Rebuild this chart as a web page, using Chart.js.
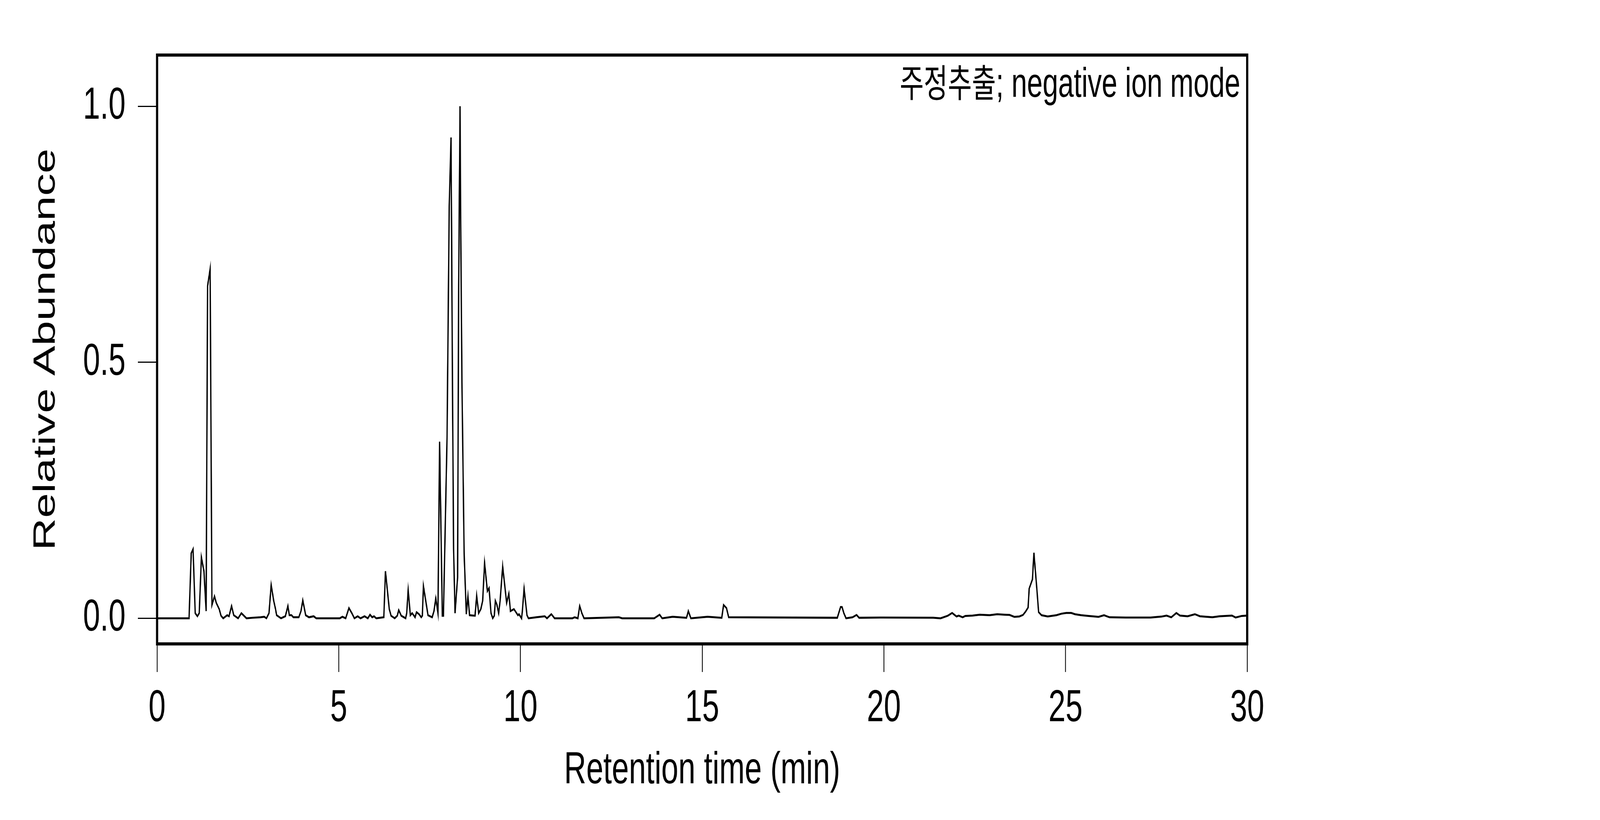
<!DOCTYPE html>
<html>
<head>
<meta charset="utf-8">
<script src="https://cdn.jsdelivr.net/npm/chart.js@4.4.1/dist/chart.umd.min.js"></script>
<style>
  html, body { margin: 0; padding: 0; background: #fff; overflow: hidden; }
  /* canvas is drawn at 6000x2100 and shown at whatever the window is */
  #tic { display: block; width: 100vw !important; height: 100vh !important; }
</style>
</head>
<body>
<canvas id="tic" width="6000" height="2100"></canvas>
<script>
// retention time (min) and relative abundance
var retentionTime = [
  0, 0.5, 0.88, 0.94, 0.99, 1.05, 1.11, 1.16, 1.22, 1.29, 1.35, 1.39, 1.46, 1.51, 1.58, 1.63, 1.71, 1.76, 1.82,
  1.93, 1.98, 2.05, 2.11, 2.23, 2.32, 2.46, 2.62, 2.85, 2.95, 3.01, 3.08, 3.14, 3.21, 3.26, 3.29, 3.41, 3.53,
  3.60, 3.64, 3.70, 3.75, 3.90, 3.96, 4.01, 4.09, 4.18, 4.31, 4.38, 5.03, 5.10, 5.19, 5.28, 5.36, 5.43, 5.52,
  5.60, 5.71, 5.80, 5.86, 5.92, 5.97, 6.03, 6.24, 6.285, 6.39, 6.44, 6.54, 6.61, 6.65, 6.72, 6.84, 6.87, 6.91,
  6.97, 7.02, 7.10, 7.14, 7.21, 7.27, 7.30, 7.33, 7.456, 7.57, 7.62, 7.67, 7.73, 7.775, 7.85, 7.88, 7.98, 8.04,
  8.09, 8.13, 8.16, 8.20, 8.27, 8.30, 8.337, 8.356, 8.39, 8.45, 8.51, 8.555, 8.60, 8.75, 8.795, 8.85, 8.91, 8.96,
  9.013, 9.09, 9.136, 9.19, 9.237, 9.28, 9.31, 9.35, 9.40, 9.44, 9.511, 9.62, 9.68, 9.725, 9.82, 9.93, 9.96,
  10.03, 10.05, 10.10, 10.18, 10.22, 10.44, 10.67, 10.73, 10.85, 10.94, 11.43, 11.49, 11.58, 11.63, 11.69, 11.75,
  12.71, 12.80, 13.68, 13.83, 13.90, 14.19, 14.57, 14.62, 14.69, 15.15, 15.54, 15.59, 15.67, 15.73, 18.72, 18.81,
  18.85, 18.90, 18.96, 19.14, 19.25, 19.32, 19.92, 21.36, 21.56, 21.76, 21.88, 22.00, 22.06, 22.17, 22.24, 22.44,
  22.64, 22.91, 23.12, 23.32, 23.46, 23.59, 23.73, 23.83, 23.90, 23.97, 24.00, 24.07, 24.09, 24.13, 24.21, 24.26,
  24.34, 24.51, 24.75, 24.89, 25.02, 25.16, 25.26, 25.43, 25.64, 25.91, 26.06, 26.21, 26.66, 27.34, 27.64, 27.78,
  27.91, 28.05, 28.15, 28.36, 28.56, 28.70, 29.04, 29.24, 29.58, 29.68, 29.85, 30.0
];
var relAbundance = [
  0, 0, 0, 0.127, 0.135, 0.01, 0.004, 0.01, 0.119, 0.092, 0.014, 0.649, 0.682, 0.026, 0.043, 0.03, 0.018, 0.005, 0,
  0.006, 0.004, 0.024, 0.006, 0, 0.01, 0, 0.001, 0.002, 0.003, 0, 0.01, 0.065, 0.034, 0.018, 0.006, 0, 0.004,
  0.024, 0.006, 0.006, 0.002, 0.002, 0.014, 0.035, 0.006, 0.002, 0.004, 0, 0, 0.003, 0, 0.02, 0.01, 0, 0.004,
  0, 0.004, 0, 0.007, 0.002, 0.004, 0, 0.002, 0.092, 0.018, 0.005, 0, 0.005, 0.016, 0.005, 0, 0.01, 0.055,
  0.006, 0.01, 0.002, 0.012, 0.008, 0.002, 0.005, 0.063, 0.006, 0.002, 0.014, 0.039, 0.01, 0.345, 0.005, 0.005, 0.353, 0.805,
  0.939, 0.447, 0.135, 0.01, 0.08, 0.65, 1.0, 0.77, 0.46, 0.127, 0.008, 0.043, 0.006, 0.005, 0.044, 0.01, 0.018, 0.034,
  0.108, 0.053, 0.059, 0.01, 0, 0.005, 0.034, 0.027, 0.01, 0.034, 0.101, 0.03, 0.048, 0.014, 0.018, 0.006, 0.008,
  0, 0.012, 0.058, 0.006, 0, 0.002, 0.004, 0, 0.008, 0, 0, 0.002, 0, 0.024, 0.01, 0,
  0.002, 0, 0, 0.007, 0, 0.003, 0.001, 0.014, 0, 0.003, 0.001, 0.026, 0.02, 0.002, 0.001, 0.022,
  0.022, 0.01, 0, 0.002, 0.0066, 0.001, 0.0015, 0.001, 0, 0.005, 0.0104, 0.0036, 0.0053, 0.002, 0.0046, 0.0053,
  0.007, 0.006, 0.008, 0.007, 0.0066, 0.0028, 0.0036, 0.0066, 0.013, 0.021, 0.058, 0.072, 0.076, 0.128, 0.058, 0.012,
  0.006, 0.0036, 0.006, 0.009, 0.0104, 0.0104, 0.008, 0.006, 0.0046, 0.0028, 0.006, 0.002, 0.0015, 0.0015, 0.0033, 0.0053,
  0.002, 0.0104, 0.0053, 0.004, 0.008, 0.004, 0.002, 0.004, 0.0053, 0.0015, 0.0046, 0.0053
];
var xTickValues = [0, 5, 10, 15, 20, 25, 30];
var yTickValues = [0, 0.5, 1.0];
var labelKo = "주정추출";
var labelEn = "; negative ion mode";

var points = retentionTime.map(function (t, i) {
    return { x: t, y: relAbundance[i] };
});

var axisFont = { family: "'Liberation Sans', Arial, sans-serif", size: 115 };

// box round the plot + the sample note in the top right corner
var frameAndNote = {
    id: 'frameAndNote',
    afterDraw: function (chart) {
        var ctx = chart.ctx;
        var a = chart.chartArea;
        ctx.save();
        ctx.strokeStyle = '#000';
        ctx.lineWidth = 8;
        ctx.strokeRect(a.left, a.top, a.right - a.left, a.bottom - a.top);
        ctx.fillStyle = '#000';
        ctx.textBaseline = 'alphabetic';
        ctx.textAlign = 'right';
        ctx.font = "105px 'Liberation Sans', Arial, sans-serif";
        var xEn = a.right - 26;
        var yBase = a.top + 107;
        ctx.fillText(labelEn, xEn, yBase);
        var wEn = ctx.measureText(labelEn).width;
        ctx.font = "98px 'Noto Sans CJK KR', sans-serif";
        ctx.fillText(labelKo, xEn - wEn, yBase);
        ctx.restore();
    }
};

var myContext = document.getElementById("tic").getContext('2d');
var myChart = new Chart(myContext, {
    type: 'line',
    data: {
        datasets: [{
            label: 'TIC',
            data: points,
            borderColor: '#000',
            borderWidth: 5,
            pointRadius: 0,
            tension: 0,
            fill: false
        }]
    },
    options: {
        responsive: false,
        animation: false,
        devicePixelRatio: 1,
        layout: { padding: { left: 0, top: 141, right: 1323, bottom: 0 } },
        plugins: { legend: { display: false }, tooltip: { enabled: false } },
        scales: {
            x: {
                type: 'linear',
                min: 0,
                max: 30,
                afterFit: function (scale) { scale.height = 451; },
                afterBuildTicks: function (scale) {
                    scale.ticks = xTickValues.map(function (v) { return { value: v }; });
                },
                grid: { drawOnChartArea: false, drawTicks: true, tickLength: 72, lineWidth: 3, color: '#000' },
                border: { display: false },
                ticks: {
                    color: '#000',
                    font: axisFont,
                    padding: 25,
                    maxRotation: 0,
                    autoSkip: false
                },
                title: {
                    display: true,
                    text: 'Retention time (min)',
                    color: '#000',
                    font: axisFont,
                    padding: { top: 0, bottom: 57 }
                }
            },
            y: {
                type: 'linear',
                min: -0.05,
                max: 1.1,
                afterFit: function (scale) { scale.width = 589; },
                afterBuildTicks: function (scale) {
                    scale.ticks = yTickValues.map(function (v) { return { value: v }; });
                },
                grid: { drawOnChartArea: false, drawTicks: true, tickLength: 72, lineWidth: 3, color: '#000' },
                border: { display: false },
                ticks: {
                    color: '#000',
                    font: axisFont,
                    padding: 46,
                    autoSkip: false,
                    callback: function (v) { return Number(v).toFixed(1); }
                },
                title: {
                    display: true,
                    text: 'Relative Abundance',
                    color: '#000',
                    font: axisFont,
                    padding: { top: 104, bottom: 0 }
                }
            }
        }
    },
    plugins: [frameAndNote]
});
</script>
</body>
</html>
